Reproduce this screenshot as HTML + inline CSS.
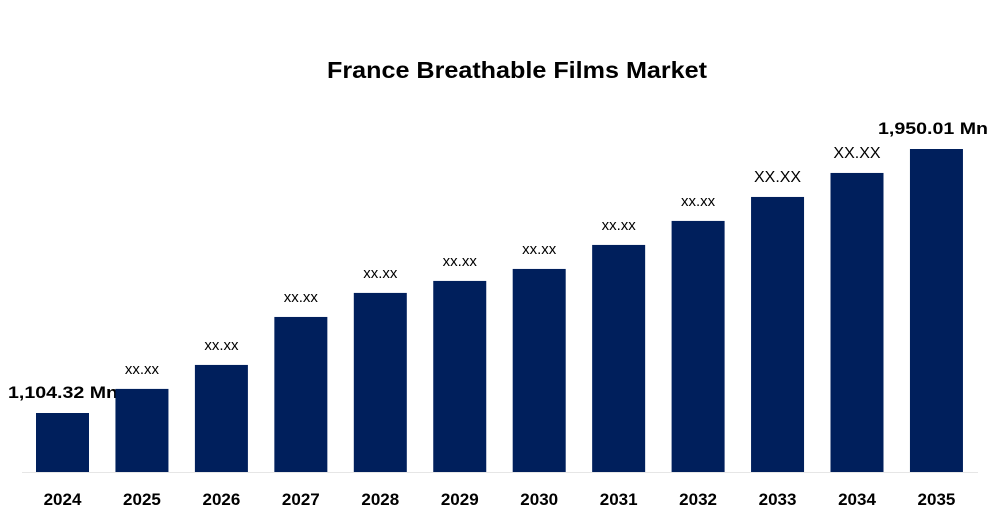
<!DOCTYPE html>
<html><head><meta charset="utf-8">
<style>
body{margin:0;background:#fff;width:999px;height:525px;overflow:hidden;font-family:"Liberation Sans",Arial,sans-serif}
</style></head>
<body>
<svg id="chart" width="999" height="525" xmlns="http://www.w3.org/2000/svg">
<text x="517" y="78" text-anchor="middle" font-size="23" font-weight="bold" fill="#000" textLength="380" lengthAdjust="spacingAndGlyphs">France Breathable Films Market</text>
<line x1="22" y1="472.5" x2="978" y2="472.5" stroke="#e6e6e6" stroke-width="1"/>
<g id="bars"></g>
</svg>
<script>
const years=["2024","2025","2026","2027","2028","2029","2030","2031","2032","2033","2034","2035"];
const values=[1104.32,1181.5,1258.3,1412,1489,1527.4,1565.8,1642.7,1719.6,1796.4,1873.3,1950.01];
const labels=["1,104.32 Mn","xx.xx","xx.xx","xx.xx","xx.xx","xx.xx","xx.xx","xx.xx","xx.xx","XX.XX","XX.XX","1,950.01 Mn"];
const base=472, k=264/845.69, v0=1104.32-59/k;
function yScale(v){return base-(v-v0)*k;}
function xScale(i){return 36+i*79.45;}
const bw=53, ns="http://www.w3.org/2000/svg", g=document.getElementById('bars');
years.forEach((yr,i)=>{
  const x=xScale(i), y=yScale(values[i]);
  const r=document.createElementNS(ns,'rect');
  
  
  r.setAttribute('x',x);r.setAttribute('y',y);r.setAttribute('width',bw);r.setAttribute('height',base-y);r.setAttribute('fill','#001f5c');
  g.appendChild(r);
  const t=document.createElementNS(ns,'text');
  
  
  t.setAttribute('x',x+bw/2);t.setAttribute('y',505);t.setAttribute('text-anchor','middle');
  t.setAttribute('font-size','17');t.setAttribute('font-weight','bold');t.textContent=yr;
  g.appendChild(t);
  const l=document.createElementNS(ns,'text');
  
  
  const edge=(i===0||i===years.length-1);
  l.setAttribute('x',i===0?8:(i===years.length-1?878:x+bw/2));
  l.setAttribute('y',y-(edge?15:15));
  l.setAttribute('text-anchor',edge?'start':'middle');
  l.setAttribute('font-size',edge?'17':(i>=9?'16':'15'));
  if(edge){l.setAttribute('font-weight','bold');l.setAttribute('textLength','110');l.setAttribute('lengthAdjust','spacingAndGlyphs');}
  l.textContent=labels[i];
  g.appendChild(l);
});
</script>
</body></html>
